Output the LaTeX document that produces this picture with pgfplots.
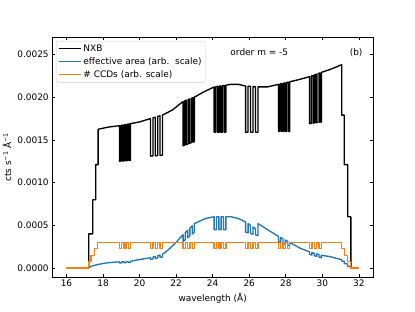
\documentclass[border=0pt]{standalone}
\usepackage{fontspec}
\setmainfont{DejaVu Sans}
\usepackage{pgfplots}
\pgfplotsset{compat=1.18}
\definecolor{c0}{HTML}{1F77B4}
\definecolor{c1}{HTML}{FF7F0E}
\begin{document}
\begin{tikzpicture}
\useasboundingbox (0,0) rectangle (460.8bp,345.6bp);
\begin{axis}[
  at={(57.6bp,38.02bp)}, anchor=south west,
  scale only axis, width=357.12bp, height=266.11bp,
  xmin=15.2, xmax=32.8, ymin=-0.000105, ymax=0.0027,
  xtick={16,18,20,22,24,26,28,30,32},
  ytick={0,0.0005,0.001,0.0015,0.002,0.0025},
  scaled y ticks=false,
  yticklabel style={/pgf/number format/.cd, fixed, fixed zerofill, precision=4},
  /pgf/number format/assume math mode=true,
  tick align=inside, tick pos=both,
  major tick length=3.5pt,
  every tick/.style={black, line width=0.8pt},
  axis line style={line width=0.8pt},
  xlabel={wavelength (Å)},
  ylabel={cts s\textsuperscript{−1} Å\textsuperscript{−1}},
  legend cell align=left,
  legend style={at={(0.0125,0.985)}, anchor=north west, draw=black!20, rounded corners=2pt,
    fill=white, fill opacity=0.8, text opacity=1, row sep=1.5pt, inner sep=2pt},
  legend image code/.code={\path (0pt,0pt) -- (25pt,0pt);\draw[#1] (0pt,0pt) -- (22pt,0pt);},
  every axis plot/.append style={line width=1.5pt, line join=round},
]
\addplot[black] coordinates {
(17.22,0)(17.22,0.0004)(17.44,0.0004)(17.44,0.0008)(17.6,0.0008)(17.6,0.00121)(17.73,0.00121)(17.73,0.001624)(18.3,0.00165)
(18.900,0.001666)(18.900,0.001250)(18.986,0.001251)(18.986,0.001669)(19.071,0.001673)(19.071,0.001253)(19.157,0.001254)(19.157,0.001676)(19.243,0.001680)(19.243,0.001256)(19.329,0.001257)(19.329,0.001683)(19.414,0.001687)(19.414,0.001259)(19.500,0.001260)(19.500,0.001690)
(20.0,0.00171)
(20.60,0.001750)(20.60,0.001310)(20.73,0.001312)(20.73,0.001758)(20.86,0.001766)(20.86,0.001314)(20.99,0.001316)(20.99,0.001774)(21.12,0.001782)(21.12,0.001318)(21.25,0.001320)(21.25,0.001790)
(21.8,0.00185)
(22.380,0.001950)(22.380,0.001430)(22.469,0.001437)(22.469,0.001957)(22.557,0.001964)(22.557,0.001444)(22.646,0.001451)(22.646,0.001971)(22.734,0.001979)(22.734,0.001459)(22.823,0.001466)(22.823,0.001986)(22.911,0.001993)(22.911,0.001473)(23.000,0.001480)(23.000,0.002000)
(23.5,0.00206)
(24.080,0.002120)(24.080,0.001590)(24.171,0.001590)(24.171,0.002123)(24.263,0.002126)(24.263,0.001590)(24.354,0.001590)(24.354,0.002129)(24.446,0.002131)(24.446,0.001590)(24.537,0.001590)(24.537,0.002134)(24.629,0.002137)(24.629,0.001590)(24.720,0.001590)(24.720,0.002140)
(25.0,0.00215)(25.4,0.00215)
(25.800,0.002130)(25.800,0.001590)(25.936,0.001590)(25.936,0.002128)(26.072,0.002126)(26.072,0.001590)(26.208,0.001590)(26.208,0.002124)(26.344,0.002122)(26.344,0.001590)(26.480,0.001590)(26.480,0.002120)
(27.0,0.00212)
(27.600,0.002150)(27.600,0.001600)(27.689,0.001600)(27.689,0.002154)(27.777,0.002159)(27.777,0.001600)(27.866,0.001600)(27.866,0.002163)(27.954,0.002167)(27.954,0.001600)(28.043,0.001600)(28.043,0.002171)(28.131,0.002176)(28.131,0.001600)(28.220,0.001600)(28.220,0.002180)
(28.8,0.00221)
(29.300,0.002240)(29.300,0.001690)(29.393,0.001693)(29.393,0.002247)(29.486,0.002254)(29.486,0.001696)(29.579,0.001699)(29.579,0.002261)(29.671,0.002269)(29.671,0.001701)(29.764,0.001704)(29.764,0.002276)(29.857,0.002283)(29.857,0.001707)(29.950,0.001710)(29.950,0.002290)
(30.5,0.00233)(31.06,0.00238)(31.06,0.00179)(31.2,0.00179)(31.2,0.00121)(31.39,0.00121)(31.39,0.0006)(31.56,0.0006)(31.56,0)(32,0)
};
\addlegendentry{NXB}
\addplot[c0] coordinates {
(17.2,0)(17.3,0.000016)(17.5,0.00003)(17.8,0.000045)(18.2,0.00006)(18.6,0.000068)
(18.90,0.000072)(18.90,0.000060)(19.02,0.000061)(19.02,0.000073)(19.14,0.000074)(19.14,0.000062)(19.26,0.000063)(19.26,0.000076)(19.38,0.000077)(19.38,0.000064)(19.50,0.000065)(19.50,0.000078)
(20.0,0.0001)
(20.60,0.000120)(20.60,0.000100)(20.73,0.000106)(20.73,0.000128)(20.86,0.000136)(20.86,0.000112)(20.99,0.000118)(20.99,0.000144)(21.12,0.000152)(21.12,0.000124)(21.25,0.000130)(21.25,0.000160)
(21.5,0.0002)(21.75,0.00025)(22.0,0.0003)(22.2,0.00035)
(22.38,0.000390)(22.38,0.000310)(22.50,0.000332)(22.50,0.000416)(22.63,0.000442)(22.63,0.000354)(22.75,0.000376)(22.75,0.000468)(22.88,0.000494)(22.88,0.000398)(23.00,0.000420)(23.00,0.000520)
(23.3,0.00055)(23.6,0.00058)
(24.08,0.000600)(24.08,0.000450)(24.21,0.000450)(24.21,0.000600)(24.34,0.000600)(24.34,0.000450)(24.46,0.000450)(24.46,0.000600)(24.59,0.000600)(24.59,0.000450)(24.72,0.000450)(24.72,0.000600)
(25.0,0.0006)(25.4,0.00058)
(25.80,0.000540)(25.80,0.000420)(25.94,0.000412)(25.94,0.000520)(26.07,0.000500)(26.07,0.000404)(26.21,0.000396)(26.21,0.000480)(26.34,0.000460)(26.34,0.000388)(26.48,0.000380)(26.48,0.000520)
(27.0,0.00045)
(27.60,0.000370)(27.60,0.000310)(27.72,0.000300)(27.72,0.000356)(27.85,0.000342)(27.85,0.000290)(27.97,0.000280)(27.97,0.000328)(28.10,0.000314)(28.10,0.000270)(28.22,0.000260)(28.22,0.000300)
(28.8,0.00023)
(29.30,0.000190)(29.30,0.000160)(29.43,0.000152)(29.43,0.000182)(29.56,0.000174)(29.56,0.000144)(29.69,0.000136)(29.69,0.000166)(29.82,0.000158)(29.82,0.000128)(29.95,0.000120)(29.95,0.000150)
(30.5,0.00013)(31.0,0.0001)(31.06,0.0001)(31.06,0.00008)(31.2,0.00008)(31.2,0.00005)(31.38,0.00005)(31.38,0.00002)(31.54,0.00002)(31.54,0)
};
\addlegendentry{effective area (arb.\ \ scale)}
\addplot[c1] coordinates {
(16,0)(17.22,0)(17.22,0.000075)(17.35,0.000075)(17.35,0.00015)(17.55,0.00015)(17.55,0.000225)(17.71,0.000225)(17.71,0.0003)
(18.90,0.0003)(18.90,0.000225)(19.02,0.000225)(19.02,0.0003)(19.14,0.0003)(19.14,0.000225)(19.26,0.000225)(19.26,0.0003)(19.38,0.0003)(19.38,0.000225)(19.50,0.000225)(19.50,0.0003)
(20.60,0.0003)(20.60,0.000225)(20.73,0.000225)(20.73,0.0003)(20.86,0.0003)(20.86,0.000225)(20.99,0.000225)(20.99,0.0003)(21.12,0.0003)(21.12,0.000225)(21.25,0.000225)(21.25,0.0003)
(22.38,0.0003)(22.38,0.000225)(22.50,0.000225)(22.50,0.0003)(22.63,0.0003)(22.63,0.000225)(22.75,0.000225)(22.75,0.0003)(22.88,0.0003)(22.88,0.000225)(23.00,0.000225)(23.00,0.0003)
(24.08,0.0003)(24.08,0.000225)(24.21,0.000225)(24.21,0.0003)(24.34,0.0003)(24.34,0.000225)(24.46,0.000225)(24.46,0.0003)(24.59,0.0003)(24.59,0.000225)(24.72,0.000225)(24.72,0.0003)
(25.80,0.0003)(25.80,0.000225)(25.94,0.000225)(25.94,0.0003)(26.07,0.0003)(26.07,0.000225)(26.21,0.000225)(26.21,0.0003)(26.34,0.0003)(26.34,0.000225)(26.48,0.000225)(26.48,0.0003)
(27.60,0.0003)(27.60,0.000225)(27.72,0.000225)(27.72,0.0003)(27.85,0.0003)(27.85,0.000225)(27.97,0.000225)(27.97,0.0003)(28.10,0.0003)(28.10,0.000225)(28.22,0.000225)(28.22,0.0003)
(29.30,0.0003)(29.30,0.000225)(29.43,0.000225)(29.43,0.0003)(29.56,0.0003)(29.56,0.000225)(29.69,0.000225)(29.69,0.0003)(29.82,0.0003)(29.82,0.000225)(29.95,0.000225)(29.95,0.0003)
(31.06,0.0003)(31.06,0.000225)(31.2,0.000225)(31.2,0.00015)(31.36,0.00015)(31.36,0.000075)(31.54,0.000075)(31.54,0)(32,0)
};
\addlegendentry{\# CCDs (arb. scale)}
\node at (rel axis cs:0.645,0.9375) {order m = -5};
\node at (rel axis cs:0.946,0.9375) {(b)};
\end{axis}
\end{tikzpicture}
\end{document}
